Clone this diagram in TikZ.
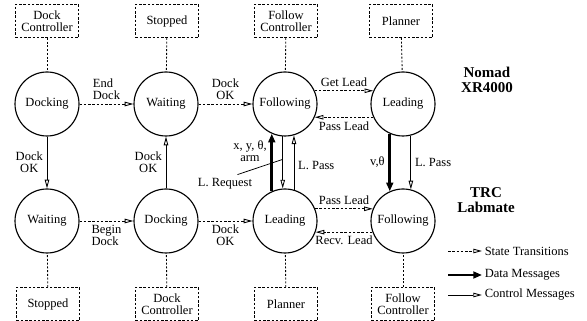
\documentclass[tikz,border=0pt]{standalone}
\usepackage{fontspec}
\setmainfont{Liberation Serif}
\usetikzlibrary{arrows.meta}

\begin{document}
\begin{tikzpicture}[x=.8pt,y=-.8pt,font=\fontsize{10}{9.6}\selectfont,
  state/.style={circle,draw,line width=.9pt,minimum size=51.2pt,inner sep=0pt},
  task/.style={draw,line width=.7pt,dash pattern=on 2pt off 1.4pt,minimum width=50.4pt,
    minimum height=26.4pt,inner sep=1pt,align=center},
  link/.style={line width=.7pt,dash pattern=on 1.6pt off 1.4pt},
  trans/.style={line width=.7pt,dash pattern=on 2pt off 1.4pt,-{Triangle[open,length=7pt,width=3.6pt]}},
  ctrl/.style={line width=.7pt,-{Triangle[open,length=7pt,width=3.6pt]}},
  data/.style={line width=2.2pt,-{Triangle[length=7pt,width=5.5pt]}},
  lbl/.style={inner sep=3pt,align=center},
  robot/.style={font=\fontsize{12}{11.5}\selectfont\bfseries,align=center}]
\useasboundingbox (0,0) rectangle (587,321);
% Stany robota Nomad XR4000 (gorny rzad) i TRC Labmate (dolny rzad).
\node[state] (dockA) at (47,104) {Docking};
\node[state] (waitA) at (166,104) {Waiting};
\node[state] (followA) at (285,104) {Following};
\node[state] (leadA) at (403,104) {Leading};
\node[state] (waitB) at (47,221) {Waiting};
\node[state] (dockB) at (166,221) {Docking};
\node[state] (leadB) at (285,221) {Leading};
\node[state] (followB) at (403,221) {Following};
% Zachowania przypisane do stanow.
\node[task] (dcA) at (47,21) {Dock\\Controller};
\node[task] (stopA) at (167,21) {Stopped};
\node[task] (fcA) at (286,21) {Follow\\Controller};
\node[task] (planA) at (401,21) {Planner};
\node[task] (stopB) at (48,304) {Stopped};
\node[task] (dcB) at (167,304) {Dock\\Controller};
\node[task] (planB) at (286,304) {Planner};
\node[task] (fcB) at (403,304) {Follow\\Controller};
\foreach \a/\b in {dcA/dockA,stopA/waitA,fcA/followA,planA/leadA,
                   stopB/waitB,dcB/dockB,planB/leadB,fcB/followB}
  \draw[link] (\a) -- (\b);
% Przejscia miedzy stanami.
\draw[trans] (dockA) -- node[lbl,above,align=left] {End\\Dock} (waitA);
\draw[trans] (waitA) -- node[lbl,above] {Dock\\OK} (followA);
\draw[trans] (followA.24) -- node[lbl,above] {Get Lead} (leadA.156);
\draw[trans] (leadA.204) -- node[lbl,below] {Pass Lead} (followA.336);
\draw[trans] (waitB) -- node[lbl,below,align=left] {Begin\\Dock} (dockB);
\draw[trans] (dockB) -- node[lbl,below] {Dock\\OK} (leadB);
\draw[trans] (leadB.22) -- node[lbl,above] {Pass Lead} (followB.158);
\draw[trans] (followB.200) -- node[lbl,below] {Recv. Lead} (leadB.340);
% Komunikaty miedzy robotami.
\draw[ctrl] (dockA) -- node[lbl,left] {Dock\\OK} (waitB);
\draw[ctrl] (dockB) -- node[lbl,left] {Dock\\OK} (waitA);
\draw[data] (leadB.114) -- node[lbl,pos=.7,left] {x, y, θ,\\arm} (followA.246);
\draw[ctrl] (followA.266) -- coordinate[pos=.44] (lreqpt) (leadB.94);
\draw[ctrl] (leadB.74) -- node[lbl,pos=.44,right] {L. Pass} (followA.286);
\node[lbl] (lreq) at (225,184) {L. Request};
\draw[line width=.6pt] ([xshift=10pt]lreq.north) -- (lreqpt);
\draw[data] (leadA.246) -- node[lbl,left] {v,θ} (followB.114);
\draw[ctrl] (leadA.284) -- node[lbl,right] {L. Pass} (followB.76);
\node[robot] (nomad) at (487,80) {Nomad\\XR4000};
\node[robot] (labmate) at (486,200) {TRC\\Labmate};
% Legenda.
\coordinate (lgT) at (448,251);
\coordinate (lgD) at (448,275);
\coordinate (lgC) at (448,295);
\node[lbl,right,inner sep=2pt] (lgTtxt) at (482,251) {State Transitions};
\node[lbl,right,inner sep=2pt] (lgDtxt) at (482,275) {Data Messages};
\node[lbl,right,inner sep=2pt] (lgCtxt) at (482,295) {Control Messages};
\draw[trans] (lgT) -- (lgTtxt.west);
\draw[data] (lgD) -- (lgDtxt.west);
\draw[ctrl] (lgC) -- (lgCtxt.west);
\end{tikzpicture}
\end{document}
